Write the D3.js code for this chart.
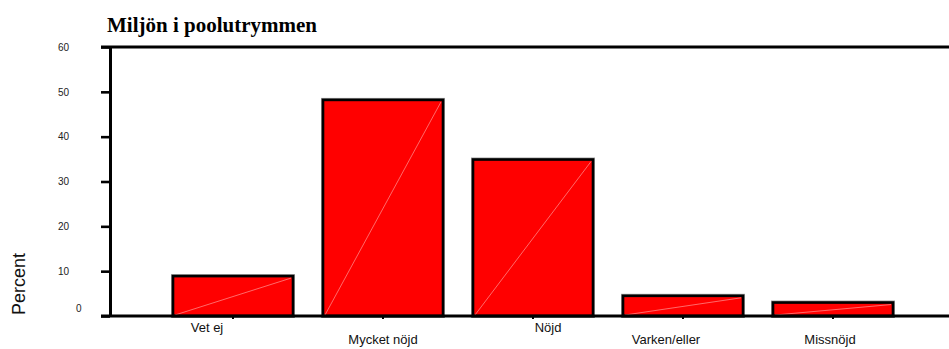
<!DOCTYPE html>
<html><head><meta charset="utf-8">
<script src="https://cdn.jsdelivr.net/npm/d3@7"></script>
<style>body{margin:0;background:#fff}svg{display:block}</style>
</head><body>
<script>
const title = "Miljön i poolutrymmen";
const yTitle = "Percent";
const categories = ["Vet ej","Mycket nöjd","Nöjd","Varken/eller","Missnöjd"];
const values = [8.9, 48.2, 34.9, 4.5, 3.0];
const yTicks = [0,10,20,30,40,50,60];

const W = 949, H = 349;
const svg = d3.select("body").append("svg").attr("width",W).attr("height",H);

const y = d3.scaleLinear().domain([0,60]).range([316,47]);
const x = d3.scaleBand().domain(categories).range([158,908]).paddingInner(0.2).paddingOuter(0.1);

// title
svg.append("text").attr("x",107).attr("y",32)
  .attr("font-family","'Liberation Serif','Times New Roman',serif")
  .attr("font-weight","bold").attr("font-size",21).text(title);

// y title
svg.append("text").attr("transform","translate(25,284) rotate(-90)")
  .attr("text-anchor","middle").attr("font-family","'Liberation Sans',Arial,sans-serif")
  .attr("font-size",18).attr("fill","#111").text(yTitle);

// bars
const bars = svg.append("g");
bars.selectAll("rect.halo").data(values).join("rect")
  .attr("x",(d,i)=>x(categories[i])).attr("width",x.bandwidth())
  .attr("y",d=>y(d)).attr("height",d=>y(0)-y(d))
  .attr("fill","none").attr("stroke","#999").attr("stroke-width",4);
bars.selectAll("rect.bar").data(values).join("rect")
  .attr("x",(d,i)=>x(categories[i])).attr("width",x.bandwidth())
  .attr("y",d=>y(d)).attr("height",d=>y(0)-y(d))
  .attr("fill","#ff0000").attr("stroke","#000").attr("stroke-width",2.6);
bars.selectAll("line.diag").data(values).join("line")
  .attr("x1",(d,i)=>x(categories[i])+2).attr("y1",y(0)-1)
  .attr("x2",(d,i)=>x(categories[i])+x.bandwidth()-2).attr("y2",d=>y(d)+2)
  .attr("stroke","#ffb0b0").attr("stroke-width",0.6);

// y axis
const ya = svg.append("g").attr("transform","translate(110,0)")
  .call(d3.axisLeft(y).tickValues(yTicks).tickSize(9).tickSizeOuter(0).tickFormat(d3.format("d")));
ya.select(".domain").attr("stroke","#000").attr("stroke-width",3);
ya.selectAll(".tick line").attr("stroke","#000").attr("stroke-width",2.6);
ya.selectAll(".tick text")
  .attr("font-family","'Liberation Sans',Arial,sans-serif").attr("font-size",10).attr("fill","#222")
  .attr("text-anchor","start")
  .attr("x",d=>d===0?-34:-52).attr("dy",d=>d===0?"-0.5em":"0.32em");

// frame lines
svg.append("line").attr("x1",101).attr("x2",W).attr("y1",y(60)).attr("y2",y(60))
  .attr("stroke","#000").attr("stroke-width",3);

// x axis
const xa = svg.append("g").attr("transform",`translate(0,${y(0)})`)
  .call(d3.axisBottom(x).tickSize(3).tickSizeOuter(0));
xa.select(".domain").remove();
xa.selectAll(".tick line").attr("stroke","#000").attr("stroke-width",2);
const labelDx = [-26, 0, 15, -17, -3];
const lower = [false, true, false, true, true];
xa.selectAll(".tick text")
  .attr("font-family","'Liberation Sans',Arial,sans-serif").attr("font-size",13).attr("fill","#111")
  .attr("dy",0)
  .attr("x",(d,i)=>labelDx[i])
  .attr("y",(d,i)=>lower[i]?28:16);
svg.append("line").attr("x1",101).attr("x2",W).attr("y1",y(0)).attr("y2",y(0))
  .attr("stroke","#000").attr("stroke-width",3);
</script>
</body></html>
